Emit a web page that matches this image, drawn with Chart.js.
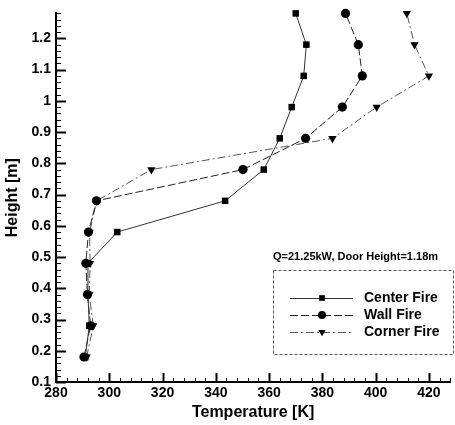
<!DOCTYPE html>
<html>
<head>
<meta charset="utf-8">
<script src="https://cdn.jsdelivr.net/npm/chart.js@4.4.1/dist/chart.umd.min.js"></script>
<style>
  html, body { margin: 0; padding: 0; background: #fff; }
</style>
</head>
<body>
<canvas id="chart" width="455" height="425"></canvas>
<script>
// Heights [m] where the temperature was sampled
const heights = [0.18, 0.28, 0.38, 0.48, 0.58, 0.68, 0.78, 0.88, 0.98, 1.08, 1.18, 1.28];

// Temperatures [K] for each fire location
const centerFire = [291, 292.5, 292, 292, 303, 343.5, 358, 364, 368.5, 373, 374, 370];
const wallFire = [290.5, 293, 291.8, 291.2, 292.2, 295.2, 350.2, 373.7, 387.5, 395, 393.5, 388.7];
const cornerFire = [291.5, 294, 292.5, 292.8, 292.6, 295.3, 315.8, 383.8, 400.4, 420, 414.6, 411.7];

const seriesNames = ['Center Fire', 'Wall Fire', 'Corner Fire'];
const legendTitle = 'Q=21.25kW, Door Height=1.18m';

// Tick labels
const xTicks = [280, 300, 320, 340, 360, 380, 400, 420];
const yTicks = [0.1, 0.2, 0.3, 0.4, 0.5, 0.6, 0.7, 0.8, 0.9, 1, 1.1, 1.2];

const FONT = '"Liberation Sans", Arial, sans-serif';
Chart.defaults.font.family = FONT;
Chart.defaults.color = '#000';

const toPoints = temps => temps.map((t, i) => ({ x: t, y: heights[i] }));

const styles = [
  { color: '#333', dash: [], point: 'rect', radius: 4.6, rotation: 0 },
  { color: '#222', dash: [8, 3], point: 'circle', radius: 4.6, rotation: 0 },
  { color: '#555', dash: [8, 3, 2, 3], point: 'triangle', radius: 4.8, rotation: 180 }
];

const datasets = [centerFire, wallFire, cornerFire].map((temps, i) => ({
  label: seriesNames[i],
  data: toPoints(temps),
  showLine: true,
  borderColor: styles[i].color,
  borderWidth: 1,
  borderDash: styles[i].dash,
  pointStyle: styles[i].point,
  pointRadius: styles[i].radius,
  pointRotation: styles[i].rotation,
  pointBackgroundColor: '#000',
  pointBorderColor: '#000',
  pointBorderWidth: 0,
  clip: false
}));

// Inward major/minor tick marks, like the original plot
const tickPlugin = {
  id: 'insideTicks',
  afterDatasetsDraw(chart) {
    const { ctx, scales: { x, y }, chartArea } = chart;
    ctx.save();
    ctx.strokeStyle = '#000';
    // x ticks every 4 K
    for (let i = 0; i * 4 + 280 <= x.max; i++) {
      const v = 280 + i * 4;
      const px = Math.round(x.getPixelForValue(v)) + 0.5;
      const major = v % 20 === 0;
      ctx.lineWidth = major ? 2 : 1;
      ctx.beginPath();
      ctx.moveTo(px, chartArea.bottom);
      ctx.lineTo(px, chartArea.bottom - (major ? 9 : 4));
      ctx.stroke();
    }
    // y ticks every 0.02 m
    for (let i = 0; 0.1 + i * 0.02 <= y.max + 1e-9; i++) {
      const v = 0.1 + i * 0.02;
      const py = Math.round(y.getPixelForValue(v)) + 0.5;
      const major = i % 5 === 0;
      ctx.lineWidth = major ? 2 : 1;
      ctx.beginPath();
      ctx.moveTo(chartArea.left, py);
      ctx.lineTo(chartArea.left + (major ? 10 : 5), py);
      ctx.stroke();
    }
    ctx.restore();
  }
};

// Boxed legend with the run description above it
const legendPlugin = {
  id: 'boxLegend',
  afterDraw(chart) {
    const { ctx } = chart;
    ctx.save();
    ctx.fillStyle = '#000';
    ctx.font = 'bold 11px ' + FONT;
    ctx.textBaseline = 'middle';
    ctx.textAlign = 'left';
    ctx.fillText(legendTitle, 273, 257);

    ctx.strokeStyle = '#555';
    ctx.lineWidth = 1;
    ctx.setLineDash([3, 2]);
    ctx.strokeRect(273.5, 270.5, 180, 84);

    ctx.font = 'bold 14px ' + FONT;
    datasets.forEach((ds, i) => {
      const yy = 298 + i * 17;
      ctx.strokeStyle = ds.borderColor;
      ctx.setLineDash(ds.borderDash);
      ctx.beginPath();
      ctx.moveTo(290, yy + 0.5);
      ctx.lineTo(353, yy + 0.5);
      ctx.stroke();
      ctx.setLineDash([]);
      ctx.fillStyle = '#000';
      Chart.helpers.drawPoint(ctx, {
        pointStyle: ds.pointStyle,
        radius: ds.pointRadius - 0.6,
        rotation: ds.pointRotation,
        borderWidth: 0
      }, 322, yy);
      ctx.fillText(ds.label, 364, yy);
    });
    ctx.restore();
  }
};

new Chart(document.getElementById('chart'), {
  type: 'scatter',
  data: { datasets },
  options: {
    responsive: false,
    animation: false,
    layout: { padding: { top: 8, right: 3, left: 0, bottom: 0 } },
    plugins: { legend: { display: false }, tooltip: { enabled: false } },
    scales: {
      x: {
        type: 'linear',
        min: 280,
        max: 428,
        afterBuildTicks: s => { s.ticks = xTicks.map(v => ({ value: v })); },
        afterFit: s => { s.height = 43; },
        grid: { display: false, drawTicks: false },
        border: { display: true, color: '#000', width: 2 },
        ticks: { font: { size: 14, weight: 'bold' }, padding: 3, maxRotation: 0, callback: v => String(v) },
        title: {
          display: true,
          text: 'Temperature [K]',
          font: { size: 16, weight: 'bold' },
          padding: { top: 0, bottom: 3 }
        }
      },
      y: {
        type: 'linear',
        min: 0.1,
        max: 1.28,
        afterBuildTicks: s => { s.ticks = yTicks.map(v => ({ value: v })); },
        afterFit: s => { s.width = 56; },
        grid: { display: false, drawTicks: false },
        border: { display: true, color: '#000', width: 2 },
        ticks: { font: { size: 14, weight: 'bold' }, padding: 5, callback: v => String(v) },
        title: {
          display: true,
          text: 'Height [m]',
          font: { size: 16, weight: 'bold' },
          padding: { top: 3, bottom: 0 }
        }
      }
    }
  },
  plugins: [tickPlugin, legendPlugin]
});
</script>
</body>
</html>
